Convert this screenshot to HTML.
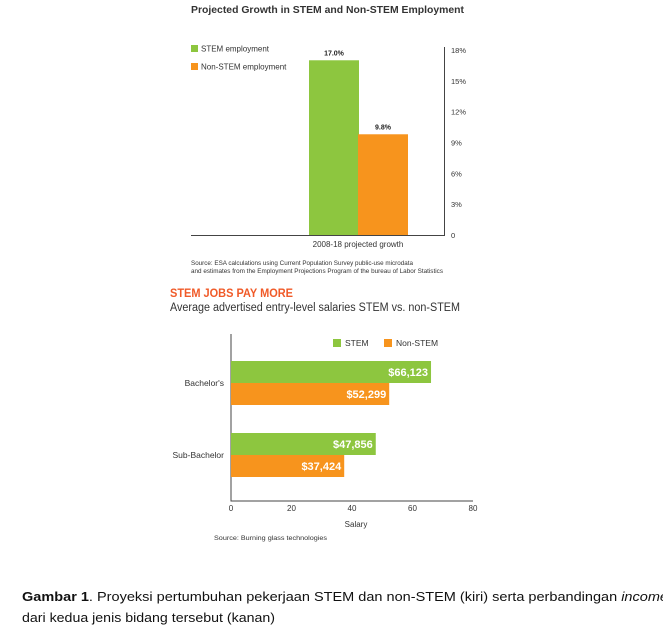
<!DOCTYPE html>
<html><head><meta charset="utf-8"><style>
html,body{margin:0;padding:0;background:#fff;}
svg{display:block;font-family:"Liberation Sans",sans-serif;}
</style></head><body>
<svg id="s" width="663" height="629" viewBox="0 0 663 629">
<text x="191" y="13" font-size="10.5" font-weight="bold" fill="#333" textLength="273" lengthAdjust="spacingAndGlyphs">Projected Growth in STEM and Non-STEM Employment</text>
<g id="topChart"></g>
<text x="191" y="265" font-size="6" fill="#333" textLength="222" lengthAdjust="spacingAndGlyphs">Source: ESA calculations using Current Population Survey public-use microdata</text>
<text x="191" y="273" font-size="6" fill="#333" textLength="252" lengthAdjust="spacingAndGlyphs">and estimates from the Employment Projections Program of the bureau of Labor Statistics</text>
<text x="170" y="297" font-size="12" font-weight="bold" fill="#f05a28" textLength="123" lengthAdjust="spacingAndGlyphs">STEM JOBS PAY MORE</text>
<text x="170" y="311" font-size="11.5" fill="#333" textLength="290" lengthAdjust="spacingAndGlyphs">Average advertised entry-level salaries STEM vs. non-STEM</text>
<g id="botChart"></g>
<text x="214" y="540" font-size="6.5" fill="#333" textLength="113" lengthAdjust="spacingAndGlyphs">Source: Burning glass technologies</text>
<text x="22" y="601" font-size="13" fill="#111" textLength="646" lengthAdjust="spacingAndGlyphs"><tspan font-weight="bold">Gambar 1</tspan>. Proyeksi pertumbuhan pekerjaan STEM dan non-STEM (kiri) serta perbandingan <tspan font-style="italic">income</tspan></text>
<text x="22" y="622" font-size="13" fill="#111" textLength="253" lengthAdjust="spacingAndGlyphs">dari kedua jenis bidang tersebut (kanan)</text>
</svg>
<script>
const NS="http://www.w3.org/2000/svg";
const GREEN="#8dc63f", ORANGE="#f7941d";
// top chart data
const growthSeries=["STEM employment","Non-STEM employment"];
const growthValues=[17.0,9.8];
const growthLabels=["17.0%","9.8%"];
const growthTicks=[0,3,6,9,12,15,18];
const growthTickLabels=["0","3%","6%","9%","12%","15%","18%"];
// bottom chart data
const salaryCategories=["Bachelor's","Sub-Bachelor"];
const salarySeries=["STEM","Non-STEM"];
const salarySTEM=[66.123,47.856];
const salaryNonSTEM=[52.299,37.424];
const salarySTEMLabels=["$66,123","$47,856"];
const salaryNonSTEMLabels=["$52,299","$37,424"];
const salaryTicks=[0,20,40,60,80];

function mk(p,tag,a,txt){const e=document.createElementNS(NS,tag);for(const k in a)e.setAttribute(k,a[k]);if(txt!=null)e.textContent=txt;p.appendChild(e);return e;}

// TOP
const gTop=document.getElementById('topChart');
const gy=v=>235-v*(185/18);
let e=mk(gTop,'line',{x1:191,y1:235.5,x2:445,y2:235.5,stroke:'#444','stroke-width':1});


e=mk(gTop,'line',{x1:444.5,y1:47,x2:444.5,y2:236,stroke:'#444','stroke-width':1});


growthTicks.forEach((t,i)=>{
  const l=mk(gTop,'text',{x:451,y:gy(t)+3,'font-size':7.5,fill:'#333'},growthTickLabels[i]);
  
  
});
const gx=[309,358],gw=50;
growthValues.forEach((v,i)=>{
  const r=mk(gTop,'rect',{x:gx[i],y:gy(v),width:gw,height:235-gy(v),fill:i?ORANGE:GREEN});
  
  
  const t=mk(gTop,'text',{x:gx[i]+gw/2,y:gy(v)-5,'font-size':7,'font-weight':'bold','text-anchor':'middle',fill:'#222'},growthLabels[i]);
  
  
});
growthSeries.forEach((s,i)=>{
  const r=mk(gTop,'rect',{x:191,y:45+i*18,width:7,height:7,fill:i?ORANGE:GREEN});
  
  
  const t=mk(gTop,'text',{x:201,y:51.5+i*18,'font-size':8,fill:'#333'},s);
  
  
});
e=mk(gTop,'text',{x:358,y:247,'font-size':8,'text-anchor':'middle',fill:'#333'},"2008-18 projected growth");



// BOTTOM
const gBot=document.getElementById('botChart');
const sx=v=>231+v*(242/80);
e=mk(gBot,'line',{x1:231,y1:334,x2:231,y2:501.5,stroke:'#444','stroke-width':1});


e=mk(gBot,'line',{x1:231,y1:501,x2:473,y2:501,stroke:'#444','stroke-width':1});


salaryTicks.forEach(t=>{
  const l=mk(gBot,'text',{x:sx(t),y:511,'font-size':8,'text-anchor':'middle',fill:'#333'},String(t));
  
  
});
e=mk(gBot,'text',{x:356,y:527,'font-size':8,'text-anchor':'middle',fill:'#333'},"Salary");


const cy=[361,433],bh=22;
salaryCategories.forEach((c,i)=>{
  const l=mk(gBot,'text',{x:224,y:cy[i]+bh+3,'font-size':8.5,'text-anchor':'end',fill:'#333'},c);
  
  
  [[salarySTEM,salarySTEMLabels,GREEN],[salaryNonSTEM,salaryNonSTEMLabels,ORANGE]].forEach((s,j)=>{
    const y=cy[i]+j*bh;
    const r=mk(gBot,'rect',{x:231,y:y,width:sx(s[0][i])-231,height:bh,fill:s[2]});
    
    
    const t=mk(gBot,'text',{x:sx(s[0][i])-3,y:y+15,'font-size':11,'font-weight':'bold','text-anchor':'end',fill:'#fff'},s[1][i]);
    
    
  });
});
const lx=[333,384];
salarySeries.forEach((s,i)=>{
  const r=mk(gBot,'rect',{x:lx[i],y:339,width:8,height:8,fill:i?ORANGE:GREEN});
  
  
  const t=mk(gBot,'text',{x:lx[i]+12,y:346,'font-size':8.5,fill:'#333'},s);
  
  
});
</script>
</body></html>
